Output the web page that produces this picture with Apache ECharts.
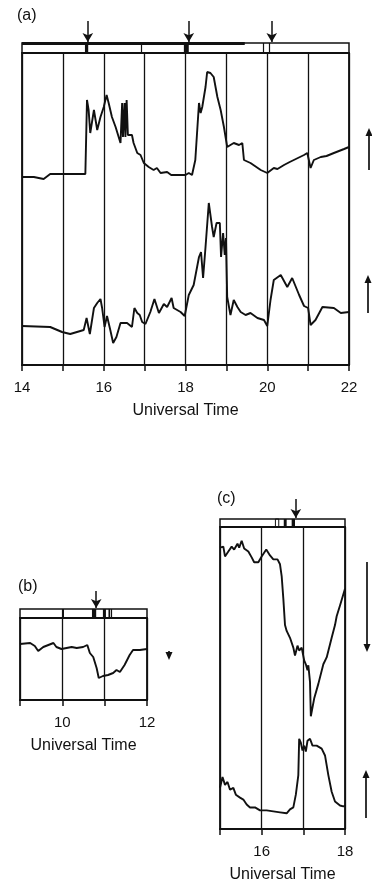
<!DOCTYPE html>
<html>
<head>
<meta charset="utf-8">
<script src="https://cdn.jsdelivr.net/npm/echarts@6/dist/echarts.min.js"></script>
<style>
  html, body { margin: 0; padding: 0; background: #fff; }
  #chart { width: 372px; height: 884px; }
</style>
</head>
<body>
<div id="chart"></div>
<script>
// ---- Panel (a): 14-22 UT, two traces [hour, relative level] ----
const aUpper = [
  [14.00,188],[14.29,188],[14.53,186],[14.69,191],[15.02,191],[15.55,191],
  [15.59,265],[15.63,255],[15.67,232],[15.76,255],[15.84,235],[15.92,248],
  [16.00,258],[16.07,270],[16.12,262],[16.20,248],[16.29,238],[16.41,222],
  [16.45,262],[16.47,228],[16.51,262],[16.53,228],[16.56,265],[16.59,230],
  [16.61,232],[16.69,230],[16.73,222],[16.82,212],[16.90,210],[16.98,202],
  [17.10,198],[17.22,195],[17.30,197],[17.39,192],[17.55,193],[17.65,190],
  [17.80,190],[18.00,190],[18.08,192],[18.16,190],[18.24,205],[18.33,262],
  [18.37,252],[18.41,258],[18.49,278],[18.53,293],[18.61,292],[18.69,288],
  [18.78,268],[18.86,255],[18.94,238],[19.02,218],[19.18,222],[19.31,220],
  [19.39,222],[19.43,205],[19.59,202],[19.84,195],[20.00,192],[20.16,197],
  [20.25,196],[20.41,200],[20.55,203],[20.65,205],[20.90,210],[20.98,212],
  [21.06,197],[21.14,205],[21.31,208],[21.45,209],[21.63,212],[21.88,216],
  [22.00,218]
];
const aLower = [
  [14.00,39],[14.69,38],[14.98,33],[15.18,31],[15.51,35],[15.58,47],
  [15.66,31],[15.76,57],[15.84,62],[15.92,66],[15.96,57],[16.02,38],
  [16.08,49],[16.16,35],[16.23,22],[16.31,28],[16.41,42],[16.57,42],
  [16.69,38],[16.75,57],[16.82,52],[16.88,50],[16.94,43],[17.02,41],
  [17.14,53],[17.24,66],[17.35,52],[17.47,61],[17.55,58],[17.66,67],
  [17.71,57],[17.88,53],[17.98,49],[18.08,70],[18.20,80],[18.33,108],
  [18.38,113],[18.43,87],[18.49,118],[18.57,162],[18.65,138],[18.69,128],
  [18.76,142],[18.84,142],[18.87,108],[18.92,132],[18.96,110],[18.99,127],
  [19.02,68],[19.10,50],[19.18,65],[19.27,58],[19.35,53],[19.47,50],
  [19.59,52],[19.76,47],[19.92,45],[20.00,39],[20.08,65],[20.16,85],
  [20.33,90],[20.49,78],[20.61,87],[20.78,70],[20.90,59],[21.00,57],
  [21.06,40],[21.18,45],[21.35,58],[21.63,57],[21.80,52],[22.00,53]
];
// strip (a): recorded intervals, dividers, event arrows
const aBlocks = [[15.54,15.62],[17.96,18.08]];
const aDividers = [16.91, 19.89, 20.04];
const aArrows = [15.61, 18.08, 20.11];

// ---- Panel (b): 9-12 UT ----
const bTrace = [
  [9.00,56],[9.24,57],[9.35,54],[9.43,49],[9.55,53],[9.67,55],[9.79,57],
  [9.86,53],[9.98,51],[10.10,52],[10.22,53],[10.34,52],[10.49,53],[10.59,55],
  [10.65,47],[10.73,43],[10.81,32],[10.86,22],[10.96,24],[11.08,25],
  [11.20,27],[11.28,30],[11.36,28],[11.47,35],[11.59,45],[11.67,50],
  [11.83,50],[12.00,51]
];
const bBlocks = [[9.99,10.04],[10.70,10.80],[10.98,11.03],[11.09,11.13]];
const bDividers = [10.96, 11.15];
const bArrows = [10.80];

// ---- Panel (c): 15-18 UT ----
const cUpper = [
  [15.00,287],[15.04,285],[15.08,288],[15.12,278],[15.20,283],[15.28,288],
  [15.34,285],[15.42,291],[15.46,287],[15.52,294],[15.58,286],[15.68,283],
  [15.76,277],[15.82,272],[15.92,272],[16.00,278],[16.11,285],[16.20,279],
  [16.28,275],[16.38,275],[16.44,270],[16.48,258],[16.52,235],[16.56,208],
  [16.60,202],[16.68,195],[16.76,185],[16.80,177],[16.86,187],[16.90,182],
  [16.96,185],[17.02,172],[17.06,168],[17.10,162],[17.12,167],[17.16,150],
  [17.18,115],[17.26,133],[17.36,148],[17.48,168],[17.56,175],[17.68,195],
  [17.76,208],[17.80,217],[17.88,228],[18.00,245]
];
const cLower = [
  [15.00,42],[15.06,53],[15.12,45],[15.18,48],[15.24,40],[15.32,42],
  [15.38,35],[15.48,32],[15.56,30],[15.64,25],[15.72,22],[15.84,22],
  [15.96,19],[16.12,19],[16.28,18],[16.44,17],[16.60,16],[16.68,20],
  [16.76,22],[16.82,35],[16.88,55],[16.90,92],[16.94,88],[16.98,80],
  [17.02,85],[17.06,79],[17.10,90],[17.16,92],[17.22,85],[17.32,85],
  [17.44,82],[17.52,75],[17.60,55],[17.68,38],[17.76,28],[17.88,24],
  [17.96,23],[18.00,24]
];
const cBlocks = [[16.53,16.60],[16.72,16.80]];
const cOpenBlocks = [[16.33,16.41]];
const cArrows = [16.82];

const INK = '#111';
const FONT = 'Liberation Sans';

const panels = [
  { x0: 14, x1: 22, left: 22, width: 327, top: 53, height: 312, strip: 10, arrowH: 22,
    traces: [aUpper, aLower], blocks: aBlocks, open: [], dividers: aDividers, arrows: aArrows,
    thickTop: [14, 19.45] },
  { x0: 9, x1: 12, left: 20, width: 127, top: 618, height: 82, strip: 9, arrowH: 18,
    traces: [bTrace], blocks: bBlocks, open: [], dividers: bDividers, arrows: bArrows },
  { x0: 15, x1: 18, left: 220, width: 125, top: 527, height: 308, strip: 8, arrowH: 20,
    traces: [cUpper, cLower], blocks: cBlocks, open: cOpenBlocks, dividers: [], arrows: cArrows }
];

const grid = [], xAxis = [], yAxis = [], series = [];

panels.forEach(p => {
  const gi = grid.length;
  // plot area
  grid.push({ left: p.left, top: p.top, width: p.width, height: p.height,
              show: true, borderColor: INK, borderWidth: 1.8, backgroundColor: 'transparent' });
  // status strip
  grid.push({ left: p.left, top: p.top - p.strip, width: p.width, height: p.strip,
              show: true, borderColor: INK, borderWidth: 1.5, backgroundColor: 'transparent' });
  // arrow band above the strip
  grid.push({ left: p.left, top: p.top - p.strip - p.arrowH, width: p.width, height: p.arrowH - 1,
              show: false });

  xAxis.push({
    gridIndex: gi, type: 'value', min: p.x0, max: p.x1, interval: 1,
    axisLine: { show: true, lineStyle: { color: INK, width: 1.8 } },
    axisTick: { show: true, inside: false, length: 6, lineStyle: { color: INK, width: 1.5 } },
    splitLine: { show: true, lineStyle: { color: INK, width: 1.3 } },
    axisLabel: { color: INK, fontFamily: FONT, fontSize: 15, margin: 15,
                 formatter: v => (v % 2 === 0 ? String(v) : '') },
    name: 'Universal Time', nameLocation: 'middle', nameGap: 38,
    nameTextStyle: { color: INK, fontFamily: FONT, fontSize: 16 }
  });
  xAxis.push({ gridIndex: gi + 1, type: 'value', min: p.x0, max: p.x1, show: false });
  xAxis.push({ gridIndex: gi + 2, type: 'value', min: p.x0, max: p.x1, show: false });

  yAxis.push({ gridIndex: gi, type: 'value', min: 0, max: p.height, show: false });
  yAxis.push({ gridIndex: gi + 1, type: 'value', min: 0, max: 1, show: false });
  yAxis.push({ gridIndex: gi + 2, type: 'value', min: 0, max: 1, show: false });

  p.traces.forEach(tr => {
    series.push({
      type: 'line', xAxisIndex: gi, yAxisIndex: gi, data: tr,
      showSymbol: false, symbol: 'none', smooth: false, silent: true,
      lineStyle: { color: INK, width: 1.9 }, animation: false
    });
  });

  // strip contents: filled blocks, open blocks, divider ticks, thick upper edge
  const stripLines = p.dividers.map(t => [{ coord: [t, 0] }, { coord: [t, 1] }]);
  if (p.thickTop) {
    stripLines.push([{ coord: [p.thickTop[0], 1] }, { coord: [p.thickTop[1], 1],
      lineStyle: { width: 3 } }]);
  }
  series.push({
    type: 'line', xAxisIndex: gi + 1, yAxisIndex: gi + 1, data: [], silent: true,
    animation: false,
    markArea: {
      silent: true,
      data: p.blocks.map(b => [{ coord: [b[0], 0], itemStyle: { color: INK } }, { coord: [b[1], 1] }])
        .concat(p.open.map(b => [{ coord: [b[0], 0],
          itemStyle: { color: 'transparent', borderColor: INK, borderWidth: 1 } }, { coord: [b[1], 1] }]))
    },
    markLine: {
      silent: true, symbol: ['none', 'none'], label: { show: false },
      lineStyle: { color: INK, width: 1.2, type: 'solid' },
      data: stripLines
    }
  });

  // event arrows pointing down onto the strip
  series.push({
    type: 'line', xAxisIndex: gi + 2, yAxisIndex: gi + 2, data: [], silent: true,
    animation: false,
    markLine: {
      silent: true, symbol: ['none', 'arrow'], symbolSize: [8, 9], label: { show: false },
      lineStyle: { color: INK, width: 1.5, type: 'solid' },
      data: p.arrows.map(t => [{ coord: [t, 1] }, { coord: [t, 0] }])
    }
  });
});

// polarity arrows beside the traces
function polarity(x, y1, y2) {
  const up = y2 < y1;
  const tip = y2, s = up ? 1 : -1;
  return [
    { type: 'line', shape: { x1: x, y1: y1, x2: x, y2: tip + s * 3 },
      style: { stroke: INK, lineWidth: 1.7 } },
    { type: 'polygon', shape: { points: [[x, tip], [x - 3.5, tip + s * 8], [x + 3.5, tip + s * 8]] },
      style: { fill: INK } }
  ];
}

const labels = [
  { type: 'text', left: 17, top: 8, style: { text: '(a)', font: '16px ' + FONT, fill: INK } },
  { type: 'text', left: 18, top: 579, style: { text: '(b)', font: '16px ' + FONT, fill: INK } },
  { type: 'text', left: 217, top: 491, style: { text: '(c)', font: '16px ' + FONT, fill: INK } }
];

const option = {
  backgroundColor: '#fff',
  animation: false,
  grid, xAxis, yAxis, series,
  graphic: labels
    .concat(polarity(369, 170, 128))
    .concat(polarity(368, 313, 275))
    .concat(polarity(169, 651, 660))
    .concat(polarity(367, 562, 652))
    .concat(polarity(366, 818, 770))
};

const chart = echarts.init(document.getElementById('chart'), null, { renderer: 'canvas' });
chart.setOption(option);
</script>
</body>
</html>
